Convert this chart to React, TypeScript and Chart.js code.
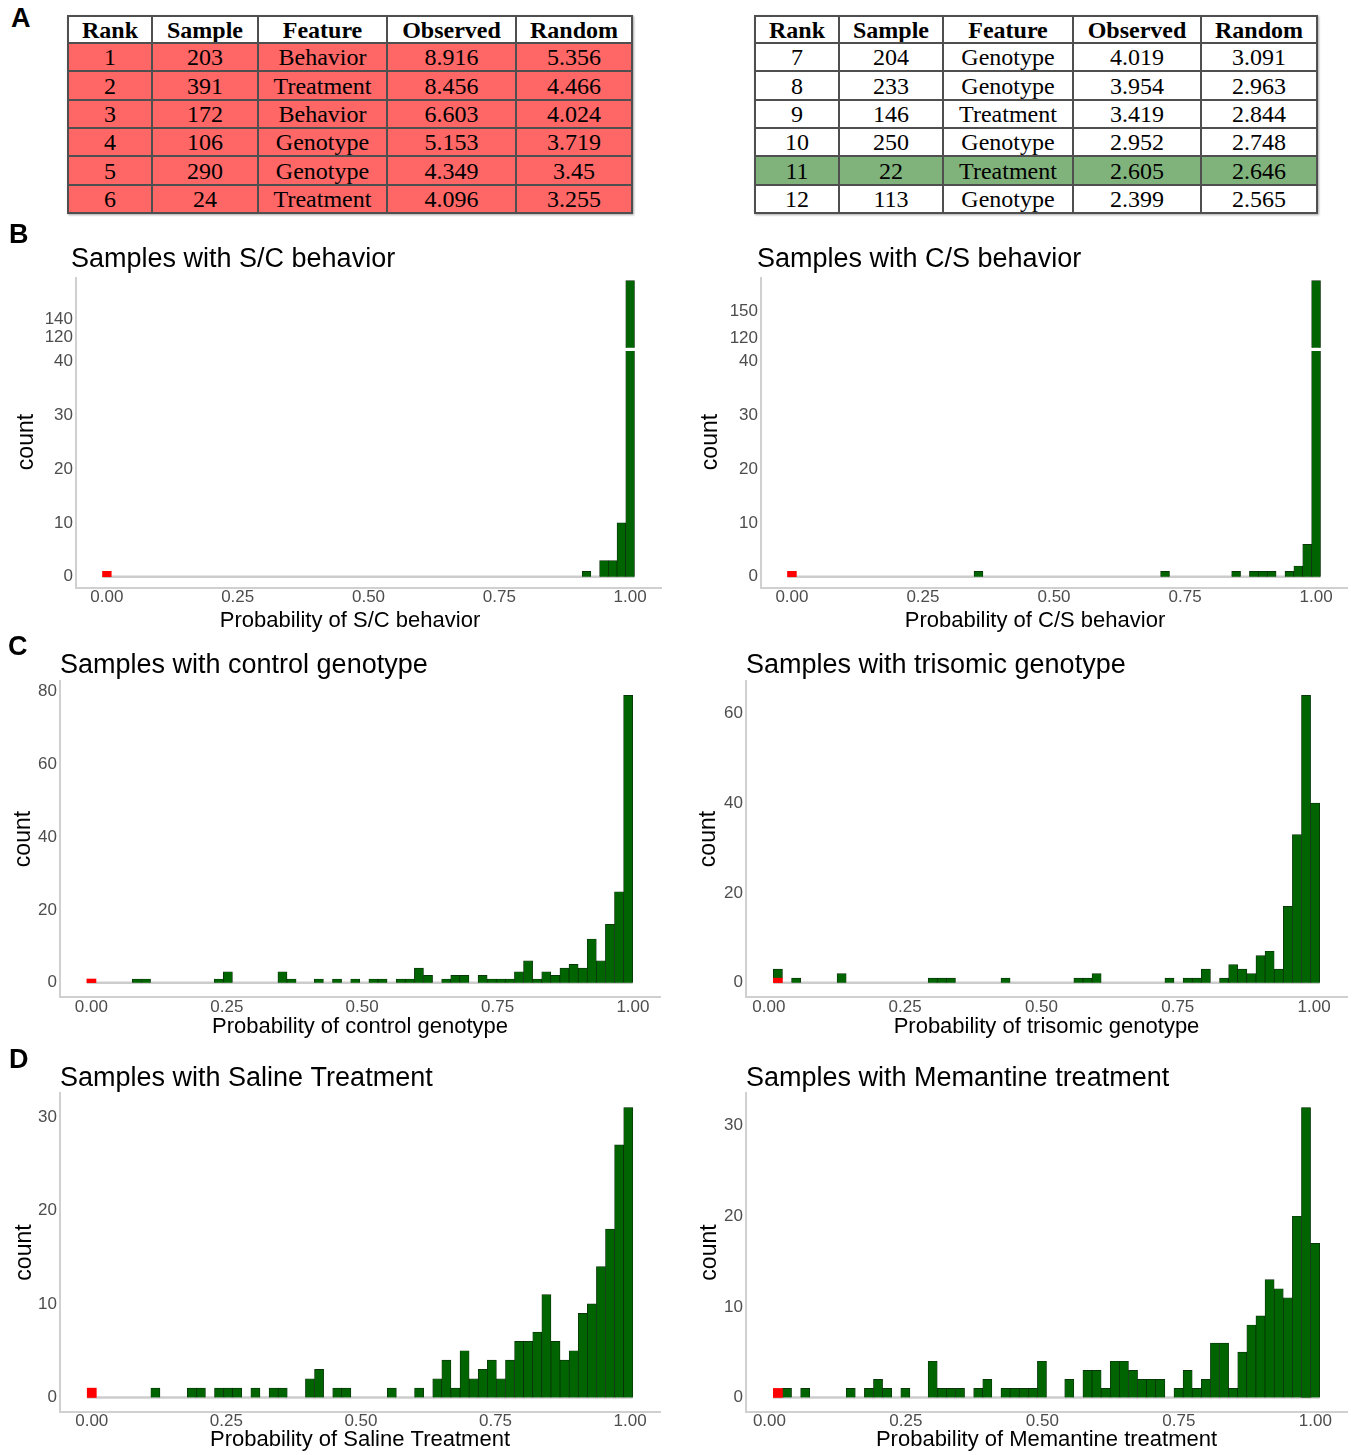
import React, { useEffect, useRef } from 'react';
import { Chart, registerables } from 'chart.js';

Chart.register(...registerables);
Chart.defaults.font.family = "'Liberation Sans', Arial, Helvetica, sans-serif";

// ---------------- Table data (panel A) ----------------
const tableHeaders = ['Rank', 'Sample', 'Feature', 'Observed', 'Random'];

const leftRanks = ['1', '2', '3', '4', '5', '6'];
const leftSamples = ['203', '391', '172', '106', '290', '24'];
const leftFeatures = ['Behavior', 'Treatment', 'Behavior', 'Genotype', 'Genotype', 'Treatment'];
const leftObserved = ['8.916', '8.456', '6.603', '5.153', '4.349', '4.096'];
const leftRandom = ['5.356', '4.466', '4.024', '3.719', '3.45', '3.255'];

const rightRanks = ['7', '8', '9', '10', '11', '12'];
const rightSamples = ['204', '233', '146', '250', '22', '113'];
const rightFeatures = ['Genotype', 'Genotype', 'Treatment', 'Genotype', 'Treatment', 'Genotype'];
const rightObserved = ['4.019', '3.954', '3.419', '2.952', '2.605', '2.399'];
const rightRandom = ['3.091', '2.963', '2.844', '2.748', '2.646', '2.565'];

const highlightedRank = '11';

// ---------------- Histogram data (panels B-D) ----------------
const xTickValues = [0, 0.25, 0.5, 0.75, 1];

// S/C behavior (61 bins)
const scGreen = [
  0, 0, 0, 0, 0, 0, 0, 0, 0, 0,
  0, 0, 0, 0, 0, 0, 0, 0, 0, 0,
  0, 0, 0, 0, 0, 0, 0, 0, 0, 0,
  0, 0, 0, 0, 0, 0, 0, 0, 0, 0,
  0, 0, 0, 0, 0, 0, 0, 0, 0, 0,
  0, 0, 0, 0, 0, 1, 0, 3, 3, 10,
  182,
];
const scRedBins = [0];
const scRedCounts = [1];
const scLowTicks = [0, 10, 20, 30, 40];
const scHighTicks = [120, 140];

// C/S behavior (60 bins)
const csGreen = [
  0, 0, 0, 0, 0, 0, 0, 0, 0, 0,
  0, 0, 0, 0, 0, 0, 0, 0, 0, 0,
  0, 1, 0, 0, 0, 0, 0, 0, 0, 0,
  0, 0, 0, 0, 0, 0, 0, 0, 0, 0,
  0, 0, 1, 0, 0, 0, 0, 0, 0, 0,
  1, 0, 1, 1, 1, 0, 1, 2, 6, 185,
];
const csRedBins = [0];
const csRedCounts = [1];
const csLowTicks = [0, 10, 20, 30, 40];
const csHighTicks = [120, 150];

// control genotype
const controlGreen = [
  0, 0, 0, 0, 0, 1, 1, 0, 0, 0,
  0, 0, 0, 0, 1, 3, 0, 0, 0, 0,
  0, 3, 1, 0, 0, 1, 0, 1, 0, 1,
  0, 1, 1, 0, 1, 1, 4, 2, 0, 1,
  2, 2, 0, 2, 1, 1, 1, 3, 6, 1,
  3, 2, 4, 5, 4, 12, 6, 16, 25, 79,
];
const controlRedBins = [0];
const controlRedCounts = [1];
const controlTicks = [0, 20, 40, 60, 80];

// trisomic genotype
const trisomicGreen = [
  2, 0, 1, 0, 0, 0, 0, 2, 0, 0,
  0, 0, 0, 0, 0, 0, 0, 1, 1, 1,
  0, 0, 0, 0, 0, 1, 0, 0, 0, 0,
  0, 0, 0, 1, 1, 2, 0, 0, 0, 0,
  0, 0, 0, 1, 0, 1, 1, 3, 0, 1,
  4, 3, 2, 6, 7, 3, 17, 33, 64, 40,
];
const trisomicRedBins = [0];
const trisomicRedCounts = [1];
const trisomicTicks = [0, 20, 40, 60];

// Saline treatment
const salineGreen = [
  0, 0, 0, 0, 0, 0, 0, 1, 0, 0,
  0, 1, 1, 0, 1, 1, 1, 0, 1, 0,
  1, 1, 0, 0, 2, 3, 0, 1, 1, 0,
  0, 0, 0, 1, 0, 0, 1, 0, 2, 4,
  1, 5, 2, 3, 4, 2, 4, 6, 6, 7,
  11, 6, 4, 5, 9, 10, 14, 18, 27, 31,
];
const salineRedBins = [0];
const salineRedCounts = [1];
const salineTicks = [0, 10, 20, 30];

// Memantine treatment
const memantineGreen = [
  0, 1, 0, 1, 0, 0, 0, 0, 1, 0,
  1, 2, 1, 0, 1, 0, 0, 4, 1, 1,
  1, 0, 1, 2, 0, 1, 1, 1, 1, 4,
  0, 0, 2, 0, 3, 3, 1, 4, 4, 3,
  2, 2, 2, 0, 1, 3, 1, 2, 6, 6,
  1, 5, 8, 9, 13, 12, 11, 20, 32, 17,
];
const memantineRedBins = [0];
const memantineRedCounts = [1];
const memantineTicks = [0, 10, 20, 30];

// ---------------- Styles ----------------
const GREEN = '#006400';
const GREEN_BORDER = '#0b2a0b';
const RED = '#FF0000';
const AXIS_COLOR = '#D0D0D0';
const ZERO_COLOR = '#CCCCCC';
const TICK_COLOR = '#4D4D4D';
const FONT = "'Liberation Sans', Arial, Helvetica, sans-serif";

type Panel = {
  key: string;
  left: number; top: number; width: number; height: number;
  area: { left: number; right: number; top: number; bottom: number };
  title: string; titleDx: number; titleBaseline: number;
  xTitle: string; tickY: number; xTitleY: number; xTitleX?: number;
  xMin: number; xMax: number;
  binStart: number; binWidth: number;
  green: number[]; redBins: number[]; redCounts: number[];
  yMin: number; yMax: number; yTicks: number[];
  countX: number; countY: number;
  broken?: { highMin: number; highMax: number; highTicks: number[]; splitY: number; gap: number };
};

const panels: Panel[] = [
  {
    key: 'sc', left: 0, top: 236, width: 670, height: 404,
    area: { left: 76, right: 661, top: 278, bottom: 588 },
    title: 'Samples with S/C behavior', titleDx: -5, titleBaseline: 267,
    xTitle: 'Probability of S/C behavior', tickY: 597.5, xTitleY: 621, xTitleX: 350,
    xMin: -0.059, xMax: 1.059, binStart: 0, binWidth: 1 / 60,
    green: scGreen, redBins: scRedBins, redCounts: scRedCounts,
    yMin: -2.1, yMax: 42.3, yTicks: scLowTicks, countX: 27, countY: 442,
    broken: { highMin: 107.5, highMax: 184.8, highTicks: scHighTicks, splitY: 349.3, gap: 1.6 },
  },
  {
    key: 'cs', left: 680, top: 236, width: 674, height: 404,
    area: { left: 761, right: 1347, top: 278, bottom: 588 },
    title: 'Samples with C/S behavior', titleDx: -4, titleBaseline: 267,
    xTitle: 'Probability of C/S behavior', tickY: 597.5, xTitleY: 621, xTitleX: 1035,
    xMin: -0.059, xMax: 1.059, binStart: 0, binWidth: 1 / 59,
    green: csGreen, redBins: csRedBins, redCounts: csRedCounts,
    yMin: -2.1, yMax: 42.3, yTicks: csLowTicks, countX: 711, countY: 442,
    broken: { highMin: 107.6, highMax: 188.0, highTicks: csHighTicks, splitY: 349.3, gap: 1.6 },
  },
  {
    key: 'control', left: 0, top: 642, width: 670, height: 408,
    area: { left: 60, right: 660, top: 681, bottom: 997 },
    title: 'Samples with control genotype', titleDx: 0, titleBaseline: 673,
    xTitle: 'Probability of control genotype', tickY: 1007.5, xTitleY: 1027,
    xMin: -0.058, xMax: 1.05, binStart: 0, binWidth: 0.0168,
    green: controlGreen, redBins: controlRedBins, redCounts: controlRedCounts,
    yMin: -3.95, yMax: 82.95, yTicks: controlTicks, countX: 24, countY: 839,
  },
  {
    key: 'trisomic', left: 680, top: 642, width: 674, height: 408,
    area: { left: 746, right: 1347, top: 681, bottom: 997 },
    title: 'Samples with trisomic genotype', titleDx: 0, titleBaseline: 673,
    xTitle: 'Probability of trisomic genotype', tickY: 1007.5, xTitleY: 1027,
    xMin: -0.0418, xMax: 1.0604, binStart: 0.0167, binWidth: 0.0167,
    green: trisomicGreen, redBins: trisomicRedBins, redCounts: trisomicRedCounts,
    yMin: -3.2, yMax: 67.2, yTicks: trisomicTicks, countX: 709, countY: 839,
  },
  {
    key: 'saline', left: 0, top: 1053, width: 670, height: 402,
    area: { left: 60, right: 660, top: 1093, bottom: 1412 },
    title: 'Samples with Saline Treatment', titleDx: 0, titleBaseline: 1086,
    xTitle: 'Probability of Saline Treatment', tickY: 1421, xTitleY: 1440,
    xMin: -0.059, xMax: 1.0555, binStart: 0, binWidth: 0.01689,
    green: salineGreen, redBins: salineRedBins, redCounts: salineRedCounts,
    yMin: -1.55, yMax: 32.55, yTicks: salineTicks, countX: 25, countY: 1252,
  },
  {
    key: 'memantine', left: 680, top: 1053, width: 674, height: 402,
    area: { left: 746, right: 1347, top: 1093, bottom: 1412 },
    title: 'Samples with Memantine treatment', titleDx: 0, titleBaseline: 1086,
    xTitle: 'Probability of Memantine treatment', tickY: 1421, xTitleY: 1440,
    xMin: -0.0429, xMax: 1.058, binStart: 0.0155, binWidth: 0.01668,
    green: memantineGreen, redBins: memantineRedBins, redCounts: memantineRedCounts,
    yMin: -1.6, yMax: 33.6, yTicks: memantineTicks, countX: 710, countY: 1252,
  },
];

type TextItem = { text: string; x: number; y: number; font: string; color: string; align: CanvasTextAlign; baseline: CanvasTextBaseline; rotate?: number };

function makeTextPlugin(items: TextItem[]) {
  return {
    id: 'panelText',
    afterDraw(chart: any) {
      const ctx: CanvasRenderingContext2D = chart.ctx;
      items.forEach((it) => {
        ctx.save();
        ctx.font = it.font;
        ctx.fillStyle = it.color;
        ctx.textAlign = it.align;
        ctx.textBaseline = it.baseline;
        ctx.translate(it.x, it.y);
        if (it.rotate) ctx.rotate(it.rotate);
        ctx.fillText(it.text, 0, 0);
        ctx.restore();
      });
    },
  };
}

function buildConfig(p: Panel): any {
  const centers = p.green.map((_, k) => p.binStart + k * p.binWidth);
  const greenPts = centers.map((x, k) => ({ x, y: p.green[k] }));
  const redPts = p.redBins.map((b, i) => ({ x: centers[b], y: p.redCounts[i] }));
  const zeroPts = [
    { x: centers[0] - p.binWidth / 2, y: 0 },
    { x: centers[centers.length - 1] + p.binWidth / 2, y: 0 },
  ];

  const yWidth = p.area.left - p.left;
  const xHeight = p.top + p.height - p.area.bottom;
  const areaH = p.area.bottom - p.area.top;
  const upperH = p.broken ? p.broken.splitY - p.area.top : 0;
  const lowerH = areaH - upperH;
  const gap = p.broken ? p.broken.gap : 0;
  // dataset clip is relative to the dataset's own (stacked) y-scale box
  const lowClip = { left: 0, right: 0, top: -gap, bottom: 0 };
  const highClip = { left: 0, right: 0, top: 0, bottom: -gap };

  const tickFont = { size: 17, lineHeight: 1 };

  const yAxis = (min: number, max: number, ticks: number[], extra: any) => ({
    type: 'linear',
    position: 'left',
    min,
    max,
    stacked: true,
    grid: { display: false, drawTicks: false },
    border: { display: true, color: AXIS_COLOR, width: 2 },
    ticks: { autoSkip: false, padding: 3, color: TICK_COLOR, font: tickFont },
    afterBuildTicks: (s: any) => {
      s.ticks = ticks.map((v) => ({ value: v }));
    },
    afterFit: (s: any) => {
      s.width = yWidth;
    },
    ...extra,
  });

  const customXTitle = p.xTitleX !== undefined;

  const scales: any = {
    x: {
      type: 'linear',
      position: 'bottom',
      min: p.xMin,
      max: p.xMax,
      offset: false,
      grid: { display: false, drawTicks: false },
      border: { display: true, color: AXIS_COLOR, width: 2 },
      ticks: {
        autoSkip: false,
        maxRotation: 0,
        padding: p.tickY - p.area.bottom - 8.5,
        color: TICK_COLOR,
        font: tickFont,
        callback: (v: any) => Number(v).toFixed(2),
      },
      title: {
        display: !customXTitle,
        text: p.xTitle,
        color: '#000',
        font: { size: 22, lineHeight: 1 },
        padding: { top: 0, bottom: p.top + p.height - p.xTitleY - 11 },
      },
      afterBuildTicks: (s: any) => {
        s.ticks = xTickValues.map((v) => ({ value: v }));
      },
      afterFit: (s: any) => {
        s.height = xHeight;
      },
    },
  };

  const items: TextItem[] = [
    {
      text: p.title,
      x: p.area.left - p.left + p.titleDx,
      y: p.titleBaseline - p.top,
      font: `27px ${FONT}`,
      color: '#000',
      align: 'left',
      baseline: 'alphabetic',
    },
  ];
  if (customXTitle) {
    items.push({
      text: p.xTitle,
      x: (p.xTitleX as number) - p.left,
      y: p.xTitleY - p.top,
      font: `22px ${FONT}`,
      color: '#000',
      align: 'center',
      baseline: 'middle',
    });
  }

  if (p.broken) {
    scales.yLow = yAxis(p.yMin, p.yMax, p.yTicks, {
      stack: 'gap', stackWeight: lowerH, weight: 1, title: { display: false },
    });
    scales.yHigh = yAxis(p.broken.highMin, p.broken.highMax, p.broken.highTicks, {
      stack: 'gap', stackWeight: upperH, weight: 2, title: { display: false },
    });
    items.push({
      text: 'count',
      x: p.countX - p.left,
      y: p.countY - p.top,
      font: `23px ${FONT}`,
      color: '#000',
      align: 'center',
      baseline: 'middle',
      rotate: -Math.PI / 2,
    });
  } else {
    scales.yLow = yAxis(p.yMin, p.yMax, p.yTicks, {
      title: {
        display: true,
        text: 'count',
        color: '#000',
        font: { size: 23, lineHeight: 1 },
        padding: { top: p.countX - p.left - 11.5, bottom: 0 },
      },
    });
  }

  const barBase = {
    type: 'bar',
    grouped: false,
    categoryPercentage: 1,
    barPercentage: 1,
    borderSkipped: 'start',
    order: 1,
  };

  const datasets: any[] = [
    { ...barBase, label: 'marked', data: redPts, backgroundColor: RED, borderColor: RED, borderWidth: 0, yAxisID: 'yLow', clip: lowClip },
    { ...barBase, label: 'count', data: greenPts, backgroundColor: GREEN, borderColor: GREEN_BORDER, borderWidth: 0.7, yAxisID: 'yLow', clip: lowClip },
    { type: 'line', label: 'zero', data: zeroPts, borderColor: ZERO_COLOR, borderWidth: 2.5, pointRadius: 0, fill: false, yAxisID: 'yLow', order: 5, clip: lowClip },
  ];
  if (p.broken) {
    datasets.push({ ...barBase, label: 'count (upper)', data: greenPts, backgroundColor: GREEN, borderColor: GREEN_BORDER, borderWidth: 0.7, yAxisID: 'yHigh', clip: highClip });
  }

  return {
    type: 'bar',
    data: { datasets },
    options: {
      responsive: false,
      animation: false,
      devicePixelRatio: 1,
      events: [],
      layout: {
        padding: { top: p.area.top - p.top, right: p.left + p.width - p.area.right, bottom: 0, left: 0 },
      },
      plugins: {
        legend: { display: false },
        tooltip: { enabled: false },
        title: { display: false },
      },
      scales,
    },
    plugins: [makeTextPlugin(items)],
  };
}

function HistPanel({ p }: { p: Panel }) {
  const ref = useRef<HTMLCanvasElement>(null);
  useEffect(() => {
    if (!ref.current) return;
    const chart = new Chart(ref.current, buildConfig(p));
    return () => chart.destroy();
  }, [p]);
  return (
    <canvas
      ref={ref}
      width={p.width}
      height={p.height}
      style={{ position: 'absolute', left: p.left, top: p.top, width: p.width, height: p.height }}
    />
  );
}

const rowHeights = [28, 29, 28, 28, 29, 28];

function DataTable(props: {
  left: number; top: number; widths: number[];
  ranks: string[]; samples: string[]; features: string[]; observed: string[]; random: string[];
  fills: string[];
}) {
  const { left, top, widths, ranks, samples, features, observed, random, fills } = props;
  const cell: React.CSSProperties = {
    border: '2px solid #4f4f4f',
    padding: 0,
    textAlign: 'center',
    verticalAlign: 'middle',
    whiteSpace: 'nowrap',
    overflow: 'hidden',
  };
  const total = widths.reduce((a, b) => a + b, 0);
  return (
    <table
      style={{
        position: 'absolute', left, top, width: total,
        borderCollapse: 'collapse', tableLayout: 'fixed',
        fontFamily: "'Liberation Serif', 'Times New Roman', serif",
        fontSize: 24, lineHeight: '24px', color: '#000',
        boxShadow: '1px 1px 2px rgba(0,0,0,0.35)',
      }}
    >
      <colgroup>
        {widths.map((w, i) => <col key={i} style={{ width: w }} />)}
      </colgroup>
      <tbody>
        <tr style={{ height: 27, background: '#ffffff' }}>
          {tableHeaders.map((h) => <td key={h} style={{ ...cell, fontWeight: 'bold' }}>{h}</td>)}
        </tr>
        {ranks.map((r, i) => (
          <tr key={r} style={{ height: rowHeights[i], background: fills[i] }}>
            <td style={cell}>{r}</td>
            <td style={cell}>{samples[i]}</td>
            <td style={cell}>{features[i]}</td>
            <td style={cell}>{observed[i]}</td>
            <td style={cell}>{random[i]}</td>
          </tr>
        ))}
      </tbody>
    </table>
  );
}

function PanelLabel({ text, left, top }: { text: string; left: number; top: number }) {
  return (
    <div style={{ position: 'absolute', left, top, fontFamily: FONT, fontWeight: 'bold', fontSize: 27, lineHeight: '27px', color: '#000' }}>
      {text}
    </div>
  );
}

export default function App() {
  const leftFills = leftRanks.map(() => '#FF6666');
  const rightFills = rightRanks.map((r) => (r === highlightedRank ? '#80B37B' : '#FFFFFF'));
  return (
    <div style={{ position: 'absolute', left: 0, top: 0, width: 1354, height: 1455, background: '#fff', overflow: 'hidden' }}>
      <DataTable left={67} top={15} widths={[84, 106, 129, 129, 116]}
        ranks={leftRanks} samples={leftSamples} features={leftFeatures} observed={leftObserved} random={leftRandom} fills={leftFills} />
      <DataTable left={754} top={15} widths={[84, 104, 130, 128, 116]}
        ranks={rightRanks} samples={rightSamples} features={rightFeatures} observed={rightObserved} random={rightRandom} fills={rightFills} />
      {panels.map((p) => <HistPanel key={p.key} p={p} />)}
      <PanelLabel text="A" left={11} top={4.5} />
      <PanelLabel text="B" left={9} top={220.5} />
      <PanelLabel text="C" left={8} top={632.5} />
      <PanelLabel text="D" left={9} top={1045.5} />
    </div>
  );
}
